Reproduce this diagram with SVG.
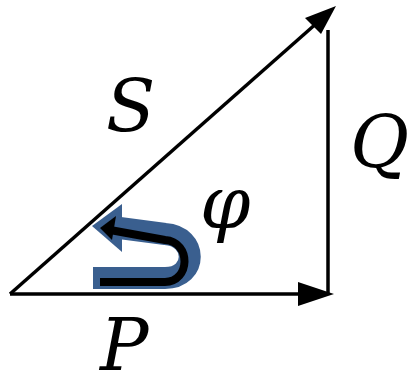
<svg xmlns="http://www.w3.org/2000/svg" width="415" height="384" viewBox="0 0 415 384">
<style>
.ln{stroke:#000;stroke-width:3.5;fill:none}
</style>
<rect width="415" height="384" fill="#fff"/>
<g id="connectors">
<line id="P" class="ln" x1="10" y1="294" x2="305" y2="294"/>
<polygon points="334,294 298,282 298,306" fill="#000"/>
<line id="Q" class="ln" x1="328" y1="294" x2="328" y2="30"/>
<line id="S" class="ln" x1="10" y1="294" x2="318" y2="22"/>
<polygon points="336,6 305,18 321,34" fill="#000"/>
</g>
<g id="angle">
<path d="M 93 278 L 165 278 C 198 278 198 236 165 234 L 112 227" fill="none" stroke="#3a5f8f" stroke-width="22"/>
<polygon points="92,226 122,204 122,252" fill="#3a5f8f"/>
<path d="M 100 282 L 165 282 C 190 282 192 242 165 240 L 110 230" fill="none" stroke="#000" stroke-width="8"/>
<polygon points="100,228 116,216 112,240" fill="#000"/>
</g>
<g id="labels" fill="#000" font-size="72">
<text x="106" y="132" style="font-family:'DejaVu Serif';font-style:italic">S</text>
<text x="350" y="168" style="font-family:'DejaVu Serif';font-style:italic">Q</text>
<text x="200" y="228" style="font-family:'DejaVu Serif';font-style:italic">φ</text>
<text x="100" y="370" style="font-family:'DejaVu Serif';font-style:italic">P</text>
</g>
</svg>
